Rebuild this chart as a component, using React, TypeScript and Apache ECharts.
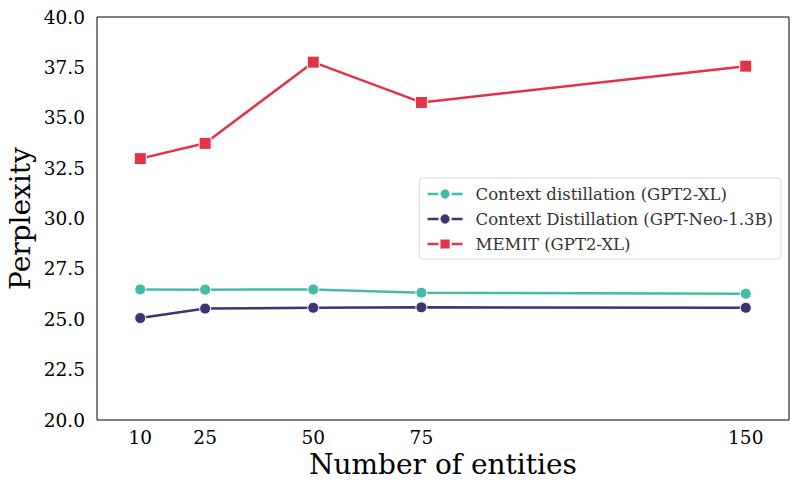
import React, { useEffect, useRef } from "react";
import * as echarts from "echarts";

const entities = [10, 25, 50, 75, 150];
const cdGpt2xl = [26.48, 26.47, 26.48, 26.32, 26.27];
const cdGptNeo = [25.06, 25.53, 25.57, 25.59, 25.57];
const memitGpt2xl = [32.97, 33.73, 37.76, 35.76, 37.56];
const yTicks = [20, 22.5, 25, 27.5, 30, 32.5, 35, 37.5, 40];

const seriesNames = [
  "Context distillation (GPT2-XL)",
  "Context Distillation (GPT-Neo-1.3B)",
  "MEMIT (GPT2-XL)",
];
const colors = ["#45bba7", "#3d3370", "#e23446"];

const FONT = "DejaVu Serif";

export default function App() {
  const ref = useRef<HTMLDivElement>(null);
  useEffect(() => {
    if (!ref.current) return;
    const chart = echarts.init(ref.current, undefined, { renderer: "svg" });
    const mk = (vals: number[]) => entities.map((x, i) => [x, vals[i]]);
    const datasets = [cdGpt2xl, cdGptNeo, memitGpt2xl];
    chart.setOption({
      animation: false,
      backgroundColor: "#ffffff",
      textStyle: { fontFamily: FONT },
      grid: {
        left: 97,
        top: 17,
        right: 10,
        bottom: 70,
        containLabel: false,
        outerBoundsMode: "none",
        show: true,
        borderColor: "#000",
        borderWidth: 1,
        backgroundColor: "transparent",
      },
      legend: {
        show: true,
        orient: "vertical",
        right: 18,
        top: 178,
        itemWidth: 35,
        itemHeight: 14,
        itemGap: 7,
        padding: [7, 8, 6, 7],
        borderColor: "#dcdcdc",
        borderWidth: 1,
        borderRadius: 3,
        backgroundColor: "rgba(255,255,255,0.85)",
        lineStyle: { width: 2.5 },
        textStyle: {
          fontFamily: FONT,
          fontSize: 16.5,
          lineHeight: 18,
          color: "#333",
          padding: [0, 0, 0, 8],
        },
        data: seriesNames,
      },
      xAxis: {
        type: "value",
        min: 0,
        max: 160,
        name: "Number of entities",
        nameLocation: "middle",
        nameGap: 30,
        nameMoveOverlap: false,
        nameTextStyle: { fontFamily: FONT, fontSize: 28, color: "#000" },
        axisLine: { show: false },
        axisTick: { show: false },
        splitLine: { show: false },
        axisLabel: {
          customValues: entities,
          fontFamily: FONT,
          fontSize: 18.5,
          color: "#000",
          margin: 8,
        },
      },
      yAxis: {
        type: "value",
        min: 20,
        max: 40,
        interval: 2.5,
        name: "Perplexity",
        nameLocation: "middle",
        nameGap: 63,
        nameMoveOverlap: false,
        nameTextStyle: { fontFamily: FONT, fontSize: 28, color: "#000" },
        axisLine: { show: false },
        axisTick: { show: false },
        splitLine: { show: false },
        axisLabel: {
          customValues: yTicks,
          fontFamily: FONT,
          fontSize: 18.5,
          color: "#000",
          margin: 12,
          formatter: (v: number) => v.toFixed(1),
        },
      },
      series: datasets.map((d, i) => ({
        name: seriesNames[i],
        type: "line",
        data: mk(d),
        symbol: i === 2 ? "rect" : "circle",
        symbolSize: i === 2 ? 12 : 11,
        lineStyle: { color: colors[i], width: 2.5 },
        itemStyle: { color: colors[i], borderColor: "#fff", borderWidth: 1 },
        z: 3 + i,
      })),
    });
    return () => chart.dispose();
  }, []);
  return (
    <div
      ref={ref}
      style={{ position: "fixed", left: 0, top: 0, width: 799, height: 490 }}
    />
  );
}
